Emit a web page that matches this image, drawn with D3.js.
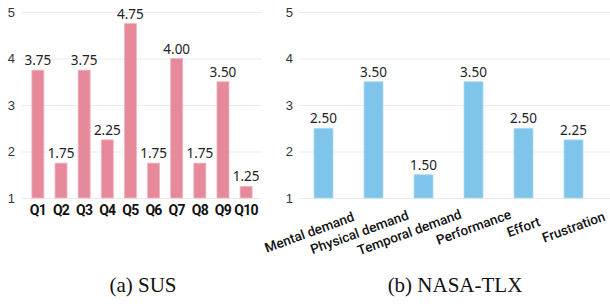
<!DOCTYPE html>
<html>
<head>
<meta charset="utf-8">
<script src="https://cdn.jsdelivr.net/npm/d3@7.9.0/dist/d3.min.js"></script>
<style>
  body { margin: 0; background: #fff; }
  svg { display: block; font-family: 'Noto Sans', sans-serif; }
  .grid line { stroke: #ebebeb; stroke-width: 1; }
  .grid path { display: none; }
  .grid text { font-size: 13px; fill: #333; }
  .val { font-size: 13.5px; fill: #222; text-anchor: middle; }
  .cat { font-family: Roboto, sans-serif; fill: #111; }
  .caption { font-family: 'Liberation Serif', serif; font-size: 21px; fill: #111; text-anchor: middle; }
</style>
</head>
<body>
<svg id="chart" width="610" height="304"></svg>
<script>
const susLabels = ['Q1', 'Q2', 'Q3', 'Q4', 'Q5', 'Q6', 'Q7', 'Q8', 'Q9', 'Q10'];
const susValues = [3.75, 1.75, 3.75, 2.25, 4.75, 1.75, 4.00, 1.75, 3.50, 1.25];

const tlxLabels = ['Mental demand', 'Physical demand', 'Temporal demand', 'Performance', 'Effort', 'Frustration'];
const tlxValues = [2.50, 3.50, 1.50, 3.50, 2.50, 2.25];

const yTicks = [1, 2, 3, 4, 5];

const svg = d3.select('#chart');

const y = d3.scaleLinear().domain([1, 5]).range([198, 12]);

function drawPanel(labels, values, opts) {
  const g = svg.append('g');

  const x = d3.scaleBand()
    .domain(labels)
    .range([opts.x0, opts.x1])
    .paddingInner(opts.padIn)
    .paddingOuter(opts.padOut);

  // gridlines + y labels
  g.append('g')
    .attr('class', 'grid')
    .attr('transform', `translate(${opts.x0},0)`)
    .call(d3.axisLeft(y).tickValues(yTicks).tickFormat(d3.format('d'))
      .tickSize(-(opts.gridEnd - opts.x0)).tickPadding(6));

  g.selectAll('rect')
    .data(values)
    .join('rect')
    .attr('x', (d, i) => x(labels[i]))
    .attr('width', x.bandwidth())
    .attr('y', (d) => y(d))
    .attr('height', (d) => y(1) - y(d))
    .attr('fill', opts.color)
    .attr('stroke', opts.edge)
    .attr('stroke-width', 0.8);

  g.selectAll('.val')
    .data(values)
    .join('text')
    .attr('class', 'val')
    .attr('x', (d, i) => x(labels[i]) + x.bandwidth() / 2)
    .attr('y', (d) => y(d) - 5)
    .text((d) => d3.format('.2f')(d));

  const cx = (l) => x(l) + x.bandwidth() / 2;
  if (opts.rotate) {
    // the two-word labels sit a bit left of their bar in the original
    g.selectAll('.cat')
      .data(labels)
      .join('text')
      .attr('class', 'cat')
      .attr('font-size', 13.5)
      .attr('font-weight', 500)
      .attr('text-anchor', 'middle')
      .attr('dy', '0.35em')
      .attr('dx', (l) => l.includes(' ') ? -15 : 0)
      .attr('transform', (l) => `translate(${cx(l)},227) rotate(-20)`)
      .text((l) => l);
  } else {
    g.selectAll('.cat')
      .data(labels)
      .join('text')
      .attr('class', 'cat')
      .attr('font-size', 14)
      .attr('font-weight', 700)
      .attr('letter-spacing', -0.7)
      .attr('text-anchor', 'middle')
      .attr('x', cx)
      .attr('y', 215)
      .text((l) => l);
  }

  svg.append('text')
    .attr('class', 'caption')
    .attr('x', opts.capX)
    .attr('y', 292)
    .text(opts.caption);
}

drawPanel(susLabels, susValues, {
  x0: 21, x1: 263, gridEnd: 262, padIn: 0.48, padOut: 0.47,
  color: '#e68a9b', edge: '#f2b6c1', rotate: false,
  caption: '(a) SUS', capX: 143
});

drawPanel(tlxLabels, tlxValues, {
  x0: 299, x1: 598, gridEnd: 610, padIn: 0.62, padOut: 0.3,
  color: '#7ec4eb', edge: '#b3dcf3', rotate: true,
  caption: '(b) NASA-TLX', capX: 455
});
</script>
</body>
</html>
